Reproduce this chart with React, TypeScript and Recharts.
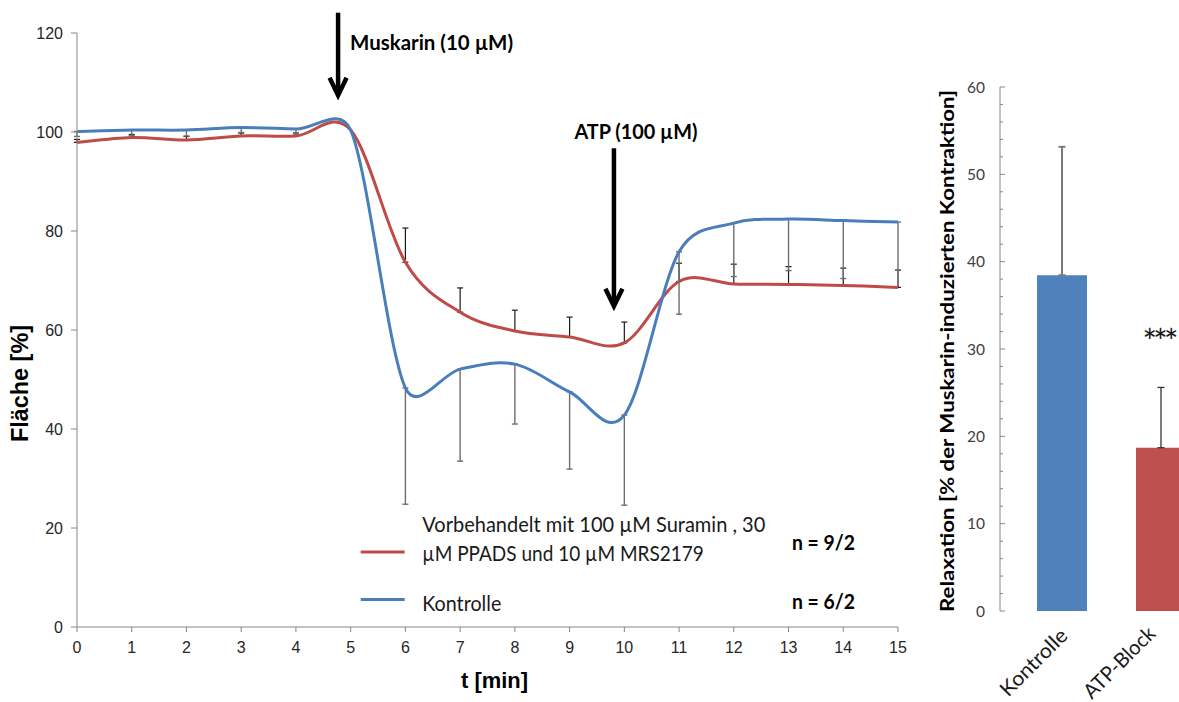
import React from 'react';
import {
  LineChart,
  Line,
  XAxis,
  YAxis,
  ErrorBar,
  ReferenceLine,
  Legend,
  BarChart,
  Bar,
  Cell,
  ReferenceDot,
  Label,
} from 'recharts';

// ---------- Data: time course (left chart) ----------
const timeMin = [0, 1, 2, 3, 4, 5, 6, 7, 8, 9, 10, 11, 12, 13, 14, 15];
const kontrolleMean = [100.1, 100.4, 100.4, 100.9, 100.6, 100.4, 48.3, 52.1, 53.1, 47.5, 42.8, 75.8, 81.6, 82.4, 82.1, 81.8];
const kontrolleErrDown = [1.0, 1.1, 1.2, 1.0, 1.0, null, 23.5, 18.6, 12.1, 15.6, 18.2, 12.6, 10.8, 10.4, 11.7, 9.7];
const blockMean = [97.9, 98.9, 98.4, 99.2, 99.2, 100.4, 73.7, 63.6, 59.8, 58.6, 57.4, 69.8, 69.3, 69.2, 69.0, 68.6];
const blockErrUp = [0.6, 0.6, 0.7, 0.6, 0.6, null, 6.9, 4.9, 4.2, 4.0, 4.2, 3.7, 4.0, 3.6, 3.5, 3.5];
const leftYTicks = [0, 20, 40, 60, 80, 100, 120];
const seriesNames = ['Vorbehandelt mit 100 µM Suramin , 30\nµM PPADS und 10 µM MRS2179', 'Kontrolle'];
const nLabels = ['n = 9/2', 'n = 6/2'];

// Annotations (time of substance addition)
const arrowLabels = ['Muskarin (10 µM)', 'ATP (100 µM)'];
const arrowTimes = [4.77, 9.81];
const arrowFrom = [124.1, 96.7];
const arrowTo = [106.6, 64.0];

// ---------- Data: relaxation (right chart) ----------
const barCategories = ['Kontrolle', 'ATP-Block'];
const barMeans = [38.45, 18.7];
const barErrUp = [14.7, 6.9];
const barSignificance = ['', '***'];
const rightYTicks = [0, 2, 4, 6, 8, 10, 12, 14, 16, 18, 20, 22, 24, 26, 28, 30, 32, 34, 36, 38, 40, 42, 44, 46, 48, 50, 52, 54, 56, 58, 60];

const lineData = timeMin.map((t, i) => ({
  t,
  kontrolle: kontrolleMean[i],
  kontrolleErr: kontrolleErrDown[i] == null ? null : [kontrolleErrDown[i], 0],
  block: blockMean[i],
  blockErr: blockErrUp[i] == null ? null : [0, blockErrUp[i]],
}));

const barData = barCategories.map((c, i) => ({
  cat: c,
  value: barMeans[i],
  errA: i === 0 ? [0, barErrUp[i]] : null,
  errB: i === 1 ? [0, barErrUp[i]] : null,
}));

const BLUE_LINE = '#4A7EBB';
const RED_LINE = '#BE4B48';
const BLUE_BAR = '#4F81BD';
const RED_BAR = '#C0504D';
const AXIS = '#868686';

// Excel-like smoothed line (Catmull-Rom with limited tangents)
const K_LIMIT = 0.5;
function excelSmooth(context: any) {
  let pts: [number, number][] = [];
  const ctl = (p: [number, number], vx: number, vy: number, seg: number, sign: number): [number, number] => {
    let dx = vx / 6;
    let dy = vy / 6;
    const len = Math.hypot(dx, dy);
    const max = K_LIMIT * seg;
    if (len > max && len > 0) {
      dx *= max / len;
      dy *= max / len;
    }
    return [p[0] + sign * dx, p[1] + sign * dy];
  };
  return {
    areaStart() {},
    areaEnd() {},
    lineStart() {
      pts = [];
    },
    point(x: number, y: number) {
      pts.push([+x, +y]);
    },
    lineEnd() {
      const n = pts.length;
      if (n === 0) return;
      context.moveTo(pts[0][0], pts[0][1]);
      if (n === 1) return;
      for (let i = 0; i < n - 1; i++) {
        const p0 = pts[Math.max(0, i - 1)];
        const p1 = pts[i];
        const p2 = pts[i + 1];
        const p3 = pts[Math.min(n - 1, i + 2)];
        const seg = Math.hypot(p2[0] - p1[0], p2[1] - p1[1]);
        const c1 = ctl(p1, p2[0] - p0[0], p2[1] - p0[1], seg, 1);
        const c2 = ctl(p2, p3[0] - p1[0], p3[1] - p1[1], seg, -1);
        context.bezierCurveTo(c1[0], c1[1], c2[0], c2[1], p2[0], p2[1]);
      }
    },
  };
}

const makeArrow = (text: string, anchor: 'start' | 'middle', dx: number, dy: number, tlen: number) => (p: any) => {
  const { x1, y1, x2, y2 } = p;
  const vy = y2 - 4;
  return (
    <g>
      <line x1={x1} y1={y1} x2={x2} y2={vy - 2} stroke="#000" strokeWidth={4.5} />
      <polyline
        points={`${x2 - 8.5},${vy - 17.5} ${x2},${vy} ${x2 + 8.5},${vy - 17.5}`}
        fill="none"
        stroke="#000"
        strokeWidth={4.5}
        strokeLinejoin="miter"
        strokeMiterlimit={10}
      />
      <text
        x={x1 + dx}
        y={y1 + dy}
        textAnchor={anchor}
        fontFamily="Lato"
        fontWeight="bold"
        fontSize={21}
        fill="#000"
        textLength={tlen}
        lengthAdjust="spacingAndGlyphs"
      >
        {text}
      </text>
    </g>
  );
};

const renderLegend = (props: any) => {
  const payload: any[] = props.payload || [];
  const byKey = (k: string) => payload.find((e) => e.dataKey === k) || {};
  const red = byKey('block');
  const blue = byKey('kontrolle');
  const redLines = String(red.value || seriesNames[0]).split('\n');
  const txt = { fontFamily: 'Lato', fontSize: 21, fill: '#1a1a1a' } as const;
  return (
    <svg width={540} height={125} style={{ overflow: 'visible', display: 'block' }}>
      <line x1={20.7} x2={64.7} y1={52} y2={52} stroke={red.color || RED_LINE} strokeWidth={3} />
      <text x={82.3} y={31.5} {...txt} textLength={343} lengthAdjust="spacingAndGlyphs">{redLines[0]}</text>
      <text x={82.3} y={61} {...txt} textLength={281.5} lengthAdjust="spacingAndGlyphs">{redLines[1]}</text>
      <text x={452} y={49.5} {...txt} fontWeight="bold" fill="#000" textLength={63} lengthAdjust="spacingAndGlyphs">{nLabels[0]}</text>
      <line x1={20.7} x2={64.7} y1={99.5} y2={99.5} stroke={blue.color || BLUE_LINE} strokeWidth={3} />
      <text x={82.3} y={110.5} {...txt} textLength={79} lengthAdjust="spacingAndGlyphs">{blue.value || seriesNames[1]}</text>
      <text x={452} y={109} {...txt} fontWeight="bold" fill="#000" textLength={63} lengthAdjust="spacingAndGlyphs">{nLabels[1]}</text>
    </svg>
  );
};

const BarYTick = (props: any) => {
  const { x, y, payload } = props;
  const axisX = x + 15;
  const major = payload.value % 10 === 0;
  return (
    <g>
      <line x1={axisX} x2={axisX + (major ? 5 : 3)} y1={y} y2={y} stroke={AXIS} strokeWidth={1} />
      {major && (
        <text x={x} y={y} dy={5.5} textAnchor="end" fontFamily="Lato" fontSize={15.5} fill="#404040">
          {payload.value}
        </text>
      )}
    </g>
  );
};

const xLabelShift = [7.5, -3.8];
const xLabelDrop = [26, 24];
const xLabelLength = [86, 92];

const BarXTick = (props: any) => {
  const { x, y, payload, index } = props;
  const i = index ?? 0;
  const ax = x + xLabelShift[i];
  const ay = y + xLabelDrop[i];
  return (
    <text
      x={ax}
      y={ay}
      transform={`rotate(-45, ${ax}, ${ay})`}
      textAnchor="end"
      fontFamily="Lato"
      fontSize={20.5}
      fill="#1a1a1a"
      textLength={xLabelLength[i]}
      lengthAdjust="spacingAndGlyphs"
    >
      {payload.value}
    </text>
  );
};

export default function App() {
  return (
    <div style={{ position: 'absolute', left: 0, top: 0, width: 1179, height: 702, overflow: 'hidden', background: '#fff' }}>
      <div style={{ position: 'absolute', left: 0, top: 0 }}>
        <LineChart width={930} height={702} data={lineData} margin={{ top: 33, right: 32, bottom: 45, left: 0 }}>
          <XAxis
            dataKey="t"
            type="number"
            domain={[0, 15]}
            ticks={timeMin}
            interval={0}
            height={30}
            tickSize={5}
            tickMargin={10}
            stroke={AXIS}
            tick={{ fill: '#262626', fontSize: 16, fontFamily: 'Liberation Sans' }}
            label={
              <Label
                content={(p: any) => {
                  const vb = p.viewBox || { x: 77, y: 627, width: 821 };
                  return (
                    <text x={vb.x + vb.width / 2 + 7} y={vb.y + 61} textAnchor="middle" fontFamily="Liberation Sans" fontWeight="bold" fontSize={22} fill="#000" textLength={67} lengthAdjust="spacingAndGlyphs">
                      t [min]
                    </text>
                  );
                }}
              />
            }
          />
          <YAxis
            type="number"
            domain={[0, 120]}
            ticks={leftYTicks}
            interval={0}
            width={77}
            tickSize={6}
            tickMargin={8}
            stroke={AXIS}
            tick={{ fill: '#262626', fontSize: 16, fontFamily: 'Liberation Sans' }}
            label={
              <Label
                content={(p: any) => {
                  const vb = p.viewBox || { x: 0, y: 33, width: 77, height: 594 };
                  const cx = vb.x + 28;
                  const cy = vb.y + vb.height / 2 + 53.5;
                  return (
                    <text x={cx} y={cy} transform={`rotate(-90, ${cx}, ${cy})`} textAnchor="middle" fontFamily="Liberation Sans" fontWeight="bold" fontSize={23} fill="#000" textLength={117} lengthAdjust="spacingAndGlyphs">
                      Fläche [%]
                    </text>
                  );
                }}
              />
            }
          />
          <Line
            type={excelSmooth as any}
            dataKey="block"
            name={seriesNames[0]}
            stroke={RED_LINE}
            strokeWidth={3}
            dot={false}
            activeDot={false}
            isAnimationActive={false}
          >
            <ErrorBar dataKey="blockErr" direction="y" width={3} stroke="#1a1a1a" strokeWidth={1.2} />
          </Line>
          <Line
            type={excelSmooth as any}
            dataKey="kontrolle"
            name={seriesNames[1]}
            stroke={BLUE_LINE}
            strokeWidth={3}
            dot={false}
            activeDot={false}
            isAnimationActive={false}
          >
            <ErrorBar dataKey="kontrolleErr" direction="y" width={3} stroke="#6e6e6e" strokeWidth={1.4} />
          </Line>
          <ReferenceLine
            segment={[{ x: arrowTimes[0], y: arrowFrom[0] }, { x: arrowTimes[0], y: arrowTo[0] }]}
            ifOverflow="visible"
            shape={makeArrow(arrowLabels[0], 'start', 12, 37, 163)}
          />
          <ReferenceLine
            segment={[{ x: arrowTimes[1], y: arrowFrom[1] }, { x: arrowTimes[1], y: arrowTo[1] }]}
            ifOverflow="visible"
            shape={makeArrow(arrowLabels[1], 'middle', 22, -9, 123)}
          />
          <Legend
            layout="vertical"
            align="center"
            verticalAlign="middle"
            wrapperStyle={{ left: 340, top: 500, width: 540, height: 125 }}
            content={renderLegend}
          />
        </LineChart>
      </div>
      <div style={{ position: 'absolute', left: 900, top: 0 }}>
        <BarChart width={320} height={702} data={barData} margin={{ top: 87, right: 10, bottom: 61, left: 0 }}>
          <XAxis
            dataKey="cat"
            type="category"
            height={30}
            padding={{ left: 12, right: 0 }}
            axisLine={false}
            tickLine={false}
            tickSize={0}
            tickMargin={0}
            interval={0}
            tick={<BarXTick />}
          />
          <YAxis
            type="number"
            domain={[0, 60]}
            ticks={rightYTicks}
            interval={0}
            width={100}
            tickLine={false}
            tickSize={0}
            tickMargin={15}
            stroke={AXIS}
            tick={<BarYTick />}
            label={
              <Label
                content={(p: any) => {
                  const vb = p.viewBox || { x: 900, y: 87, width: 100, height: 524 };
                  const cx = vb.x + 54;
                  const cy = vb.y + vb.height / 2 + 2;
                  return (
                    <text x={cx} y={cy} transform={`rotate(-90, ${cx}, ${cy})`} textAnchor="middle" fontFamily="Lato" fontWeight="bold" fontSize={19} fill="#000" textLength={522} lengthAdjust="spacingAndGlyphs">
                      Relaxation [% der Muskarin-induzierten Kontraktion]
                    </text>
                  );
                }}
              />
            }
          />
          <Bar dataKey="value" barSize={50} isAnimationActive={false}>
            {barData.map((d, i) => (
              <Cell key={d.cat} fill={i === 0 ? BLUE_BAR : RED_BAR} />
            ))}
            <ErrorBar dataKey="errA" direction="y" width={3.5} stroke="#7a7a7a" strokeWidth={2} />
            <ErrorBar dataKey="errB" direction="y" width={3.5} stroke="#333" strokeWidth={1.3} />
          </Bar>
          <ReferenceDot
            x={barCategories[1]}
            y={31}
            r={2}
            fill="none"
            stroke="none"
            ifOverflow="visible"
            label={
              <Label
                content={(p: any) => {
                  const vb = p.viewBox || { x: 0, y: 0, width: 0, height: 0 };
                  return (
                    <text
                      x={vb.x + vb.width / 2}
                      y={vb.y + vb.height / 2 + 14}
                      textAnchor="middle"
                      fontFamily="Lato"
                      fontSize={34}
                      fill="#1a1a1a"
                      textLength={36}
                      lengthAdjust="spacing"
                    >
                      {barSignificance[1]}
                    </text>
                  );
                }}
              />
            }
          />
        </BarChart>
      </div>
    </div>
  );
}
